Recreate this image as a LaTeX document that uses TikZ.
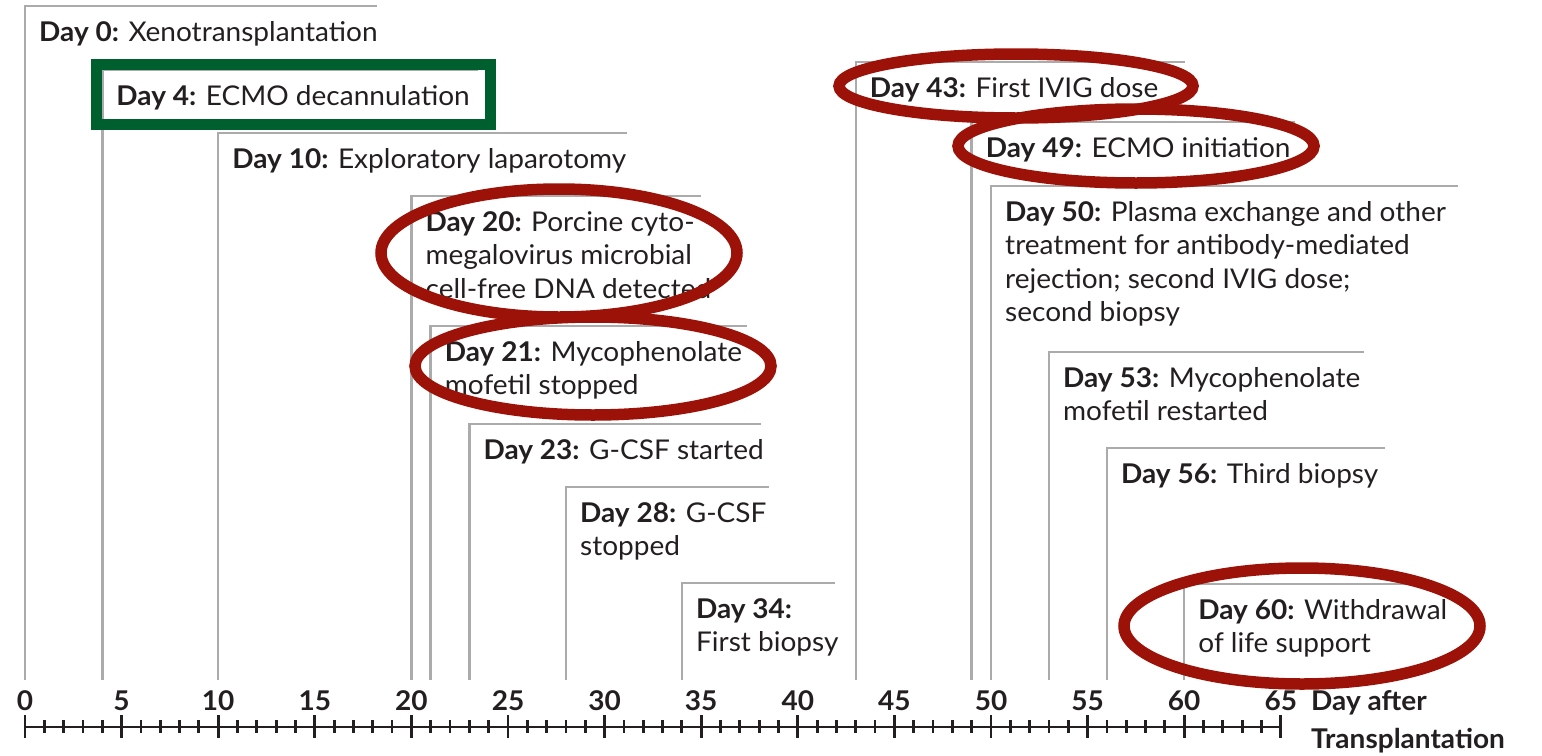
\documentclass[tikz,border=0pt]{standalone}
\usepackage{fontspec}
\setmainfont{Lato}[FakeStretch=1.03]
\definecolor{evgray}{HTML}{ABABAB}
\definecolor{ink}{HTML}{231F20}
\definecolor{ringred}{HTML}{9C1208}
\definecolor{framegreen}{HTML}{005F2E}
% x position of a given day on the axis
\newcommand{\dayx}[1]{25+19.32*#1}
% one event: vertical line from the axis, top rule, and the label
% #1 node name, #2 day, #3 y of top rule, #4 x where the rule ends, #5 label lines
\newcommand{\timelineevent}[5]{%
  \draw[evline] ({\dayx{#2}},680) -- ({\dayx{#2}},#3) -- (#4,#3);
  \node[evtext] (#1) at ({\dayx{#2}+14},{#3+35})
    {\begin{tabular}[t]{@{}l@{}}#5\end{tabular}};
}
\begin{document}
\begin{tikzpicture}[x=1pt,y=-1pt,
  evline/.style={draw=evgray,line width=2.5pt},
  evtext/.style={anchor=base west,inner sep=0pt,text=ink,
    font=\fontsize{27.2}{33.5}\selectfont},
  axisline/.style={draw=ink,line width=2.8pt},
  ticklabel/.style={anchor=base,inner sep=0pt,text=ink,
    font=\fontsize{27.2}{33.5}\selectfont\bfseries},
  ring/.style={draw=ringred,line width=11.5pt},
  greenframe/.style={draw=framegreen,line width=10.5pt}]
\useasboundingbox (0,0) rectangle (1542,755);

% events
\timelineevent{d0}{0}{6}{377}{\textbf{Day 0:} Xenotransplantation}
\timelineevent{d4}{4}{70}{478}{\textbf{Day 4:} ECMO decannulation}
\timelineevent{d10}{10}{133}{627}{\textbf{Day 10:} Exploratory laparotomy}
\timelineevent{d20}{20}{196}{701}{\textbf{Day 20:} Porcine cyto-\\megalovirus microbial\\cell-free DNA detected}
\timelineevent{d21}{21}{326}{747}{\textbf{Day 21:} Mycophenolate\\mofetil stopped}
\timelineevent{d23}{23}{424}{761}{\textbf{Day 23:} G-CSF started}
\timelineevent{d28}{28}{487}{769}{\textbf{Day 28:} G-CSF\\stopped}
\timelineevent{d34}{34}{583}{835}{\textbf{Day 34:}\\First biopsy}
\timelineevent{d43}{43}{62}{1185}{\textbf{Day 43:} First IVIG dose}
\timelineevent{d49}{49}{122}{1295}{\textbf{Day 49:} ECMO initiation}
\timelineevent{d50}{50}{186}{1458}{\textbf{Day 50:} Plasma exchange and other\\treatment for antibody-mediated\\rejection; second IVIG dose;\\second biopsy}
\timelineevent{d53}{53}{352}{1364}{\textbf{Day 53:} Mycophenolate\\mofetil restarted}
\timelineevent{d56}{56}{448}{1385}{\textbf{Day 56:} Third biopsy}
\timelineevent{d60}{60}{584}{1425}{\textbf{Day 60:} Withdrawal\\of life support}

% axis with ticks and labels
\draw[axisline] ({\dayx{0}},727) -- ({\dayx{65}},727);
\foreach \d in {0,...,65}{
  \pgfmathtruncatemacro{\r}{mod(\d,5)}
  \ifnum\r=0
    \draw[axisline] ({\dayx{\d}},715) -- ({\dayx{\d}},738);
    \node[ticklabel] (lab\d) at ({\dayx{\d}},710) {\d};
  \else
    \draw[axisline] ({\dayx{\d}},720) -- ({\dayx{\d}},733);
  \fi
}
\node[ticklabel,anchor=base west] (axtitle1) at (1311,710) {Day after};
\node[ticklabel,anchor=base west] (axtitle2) at (1311,748) {Transplantation};

% highlight frame and rings
\draw[greenframe] (96.5,64.5) rectangle (490.5,124.5);
\draw[ring] (559,253) ellipse [x radius=178pt, y radius=64pt];
\draw[ring] (593,366) ellipse [x radius=178pt, y radius=49pt];
\draw[ring] (1016,86) ellipse [x radius=177pt, y radius=32pt];
\draw[ring] (1136,146) ellipse [x radius=178pt, y radius=37pt];
\draw[ring] (1302,626) ellipse [x radius=178pt, y radius=58pt];
\end{tikzpicture}
\end{document}
